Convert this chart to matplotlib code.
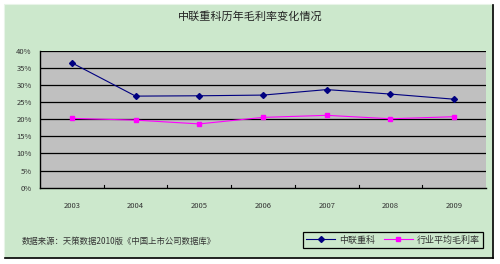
import numpy as np
import matplotlib
matplotlib.use('Agg')
from matplotlib import pyplot as plt
from matplotlib.patches import Rectangle
from matplotlib.lines import Line2D

plt.rcParams['font.family'] = ['Noto Sans CJK SC', 'DejaVu Sans']

years = ['2003', '2004', '2005', '2006', '2007', '2008', '2009']
zoomlion = [36.4, 26.7, 26.8, 27.0, 28.6, 27.3, 25.8]
industry = [20.2, 19.7, 18.6, 20.5, 21.1, 20.1, 20.7]
yticks = [0, 5, 10, 15, 20, 25, 30, 35, 40]

title = '中联重科历年毛利率变化情况'
source = '数据来源：天策数据2010版《中国上市公司数据库》'
names = ['中联重科', '行业平均毛利率']

W, H = 500, 264
fig = plt.figure(figsize=(5, 2.64), dpi=100)
fig.patch.set_facecolor('white')

# green chart area with dark right/bottom edge
bg = '#cce8cc'
fig.add_artist(Rectangle((4 / W, 1 - 258 / H), 489 / W, 254 / H,
                         transform=fig.transFigure, facecolor=bg,
                         edgecolor='#e8f4e8', lw=0.8, zorder=0))
fig.add_artist(Line2D([493 / W, 493 / W], [1 - 258 / H, 1 - 5 / H],
                      transform=fig.transFigure, color='black', lw=1.2))
fig.add_artist(Line2D([5 / W, 493 / W], [1 - 258 / H, 1 - 258 / H],
                      transform=fig.transFigure, color='black', lw=1.2))

ax = fig.add_axes([40 / W, 1 - 187.7 / H, 446 / W, 137.2 / H])
ax.set_facecolor('#c0c0c0')
x = np.arange(len(years))

for y in yticks[1:]:
    ax.axhline(y, color='black', lw=0.9, zorder=1)

ax.plot(x, zoomlion, color='#000080', lw=0.8, marker='D', ms=3,
        label=names[0], zorder=3)
ax.plot(x, industry, color='#ff00ff', lw=0.8, marker='s', ms=3.5,
        label=names[1], zorder=3)

ax.set_xlim(-0.5, len(years) - 0.5)
ax.set_ylim(0, 40)
ax.set_yticks(yticks)
ax.set_yticklabels([f'{v}%' for v in yticks], fontsize=5.5, color='#333333')
ax.set_xticks(x)
ax.set_xticklabels(years, fontsize=5.5, color='#333333')
ax.tick_params(axis='x', length=0, pad=10)
ax.tick_params(axis='y', length=0, pad=6)
# category boundary ticks pointing up from the x axis
for b in np.arange(0.5, len(years) - 0.5, 1):
    ax.plot([b, b], [0, 0.8], color='black', lw=0.8, zorder=4)

for s in ['top', 'right']:
    ax.spines[s].set_visible(False)
ax.spines['left'].set_color('black')
ax.spines['bottom'].set_color('black')
ax.spines['left'].set_linewidth(1)
ax.spines['bottom'].set_linewidth(1)

fig.text(250 / W, 1 - 17 / H, title, ha='center', va='center',
         fontsize=8, color='#222222')
fig.text(22 / W, 1 - 241 / H, source, ha='left', va='center',
         fontsize=6, color='#333333')

leg = fig.legend(loc='center', bbox_to_anchor=(393 / W, 1 - 240 / H),
                 ncol=2, fontsize=6.5, frameon=True, fancybox=False,
                 edgecolor='black', facecolor=bg, framealpha=1,
                 handlelength=3.2, columnspacing=1.0, handletextpad=0.4,
                 borderpad=0.35)
leg.get_frame().set_linewidth(0.9)
for t in leg.get_texts():
    t.set_color('#333333')

fig.savefig('out.png', dpi=100, facecolor='white')
